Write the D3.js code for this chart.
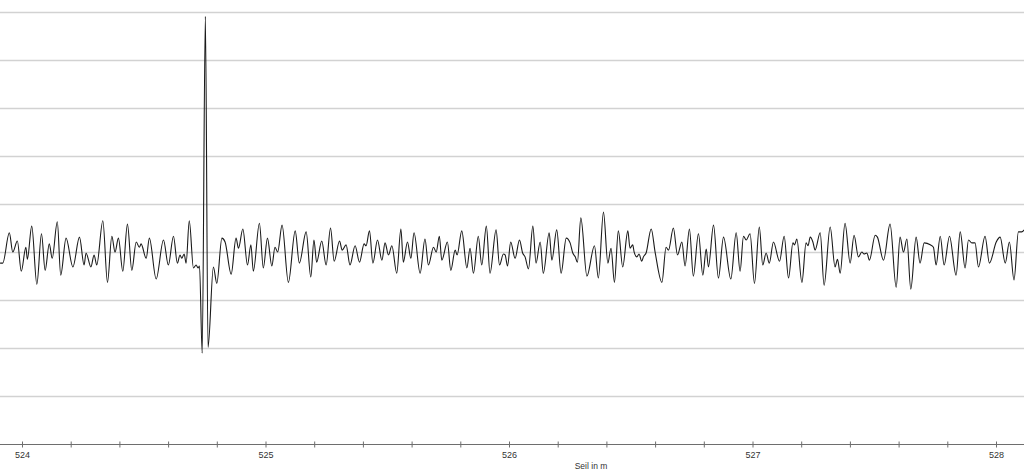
<!DOCTYPE html>
<html>
<head>
<meta charset="utf-8">
<script src="https://cdn.jsdelivr.net/npm/d3@7"></script>
<style>
  html, body { margin: 0; padding: 0; background: #ffffff; }
  svg { display: block; }
</style>
</head>
<body>
<svg id="chart" width="1024" height="470"></svg>
<script>
// Position along the rope (Seil in m) of each read-off turning point
const seilPos = [
523.910,523.921,523.948,523.962,523.981,523.997,524.016,524.022,524.040,524.061,
524.080,524.095,524.112,524.124,524.145,524.159,524.181,524.209,524.236,524.255,
524.263,524.283,524.296,524.307,524.332,524.351,524.369,524.382,524.396,524.414,
524.433,524.451,524.469,524.482,524.489,524.510,524.523,524.551,524.581,524.601,
524.622,524.638,524.649,524.656,524.666,524.674,524.687,524.704,524.715,524.723,
524.729,524.740,524.753,524.764,524.786,524.800,524.821,524.834,524.859,524.879,
524.889,524.907,524.926,524.940,524.950,524.975,524.991,525.008,525.026,525.039,
525.050,525.068,525.094,525.122,525.139,525.167,525.186,525.199,525.210,525.231,
525.249,525.267,525.282,525.304,525.315,525.331,525.347,525.368,525.386,525.405,
525.413,525.427,525.441,525.460,525.478,525.491,525.505,525.519,525.539,525.556,
525.566,525.583,525.597,525.610,525.635,525.655,525.669,525.690,525.701,525.714,
525.724,525.747,525.761,525.779,525.787,525.806,525.827,525.840,525.854,525.874,
525.888,525.907,525.922,525.947,525.961,525.977,525.984,525.994,526.007,526.025,
526.043,526.056,526.066,526.080,526.098,526.111,526.128,526.141,526.165,526.176,
526.196,526.214,526.235,526.251,526.262,526.272,526.281,526.295,526.320,526.351,
526.367,526.388,526.406,526.419,526.433,526.449,526.467,526.488,526.497,526.508,
526.514,526.525,526.534,526.545,526.552,526.563,526.584,526.600,526.628,526.645,
526.655,526.675,526.692,526.710,526.723,526.741,526.757,526.778,526.796,526.810,
526.819,526.840,526.860,526.881,526.911,526.933,526.949,526.963,526.974,526.990,
527.008,527.028,527.042,527.056,527.069,527.086,527.111,527.130,527.148,527.166,
527.173,527.182,527.203,527.220,527.228,527.237,527.248,527.257,527.278,527.294,
527.319,527.339,527.349,527.360,527.380,527.401,527.417,527.435,527.449,527.458,
527.470,527.480,527.504,527.513,527.538,527.565,527.590,527.606,527.620,527.634,
527.650,527.672,527.688,527.705,527.730,527.743,527.754,527.771,527.787,527.809,
527.836,527.853,527.873,527.887,527.901,527.914,527.928,527.955,527.973,528.001,
528.017,528.038,528.055,528.074,528.092,528.106,528.116
];

// Signal amplitude at each of those positions
const signal = [
-0.23,-0.23,0.40,0.00,0.23,-0.40,0.10,-0.15,0.54,-0.67,
0.38,-0.38,0.17,-0.13,0.63,-0.48,0.29,-0.31,0.31,-0.27,
-0.02,-0.31,-0.06,-0.27,0.65,-0.63,0.33,0.00,0.29,-0.40,
0.58,-0.38,0.21,0.10,0.17,-0.13,0.29,-0.56,0.25,-0.27,
0.33,-0.23,-0.06,-0.13,-0.04,-0.23,0.65,-0.33,-0.27,-0.33,
-0.29,-2.10,4.90,-1.98,-0.31,-0.65,0.29,0.21,-0.46,0.29,
0.08,0.48,-0.27,0.15,-0.40,0.60,-0.33,0.29,-0.29,0.10,
0.00,0.56,-0.63,0.44,-0.23,0.42,-0.52,0.25,-0.21,0.23,
-0.27,0.50,-0.19,0.23,0.04,0.15,-0.27,0.13,-0.21,0.17,
0.13,0.44,-0.23,0.25,-0.17,0.19,-0.06,0.13,-0.44,0.48,
-0.21,0.21,-0.13,0.40,-0.44,0.27,-0.27,0.10,0.00,0.33,
-0.17,0.21,-0.38,0.04,-0.06,0.44,-0.33,0.08,-0.44,0.33,
-0.27,0.54,-0.44,0.46,-0.27,-0.04,-0.06,-0.29,0.21,-0.13,
0.25,-0.02,-0.10,-0.35,0.54,-0.23,0.21,-0.44,0.40,-0.17,
0.46,-0.44,0.29,0.19,-0.02,-0.10,-0.21,0.71,-0.50,0.13,
-0.54,0.83,-0.23,0.08,-0.63,0.44,-0.31,0.44,0.08,0.15,
0.00,-0.10,-0.04,-0.19,-0.10,-0.02,0.48,0.00,-0.63,0.10,
0.04,0.50,-0.06,0.21,-0.29,0.48,-0.50,0.38,-0.48,0.06,
-0.31,0.56,-0.54,0.31,-0.56,0.40,-0.40,0.33,0.25,0.38,
-0.65,0.52,-0.27,-0.02,-0.23,0.21,-0.19,0.33,-0.54,0.19,
0.15,0.27,-0.63,0.19,0.13,0.31,0.21,0.04,0.40,-0.69,
0.52,-0.31,-0.15,-0.44,0.60,-0.23,0.35,-0.10,0.00,-0.04,
-0.02,-0.17,0.35,0.31,-0.17,0.58,-0.73,0.31,0.00,0.27,
-0.77,0.31,-0.23,0.19,0.15,0.10,-0.27,0.33,-0.27,0.33,
-0.48,0.42,-0.33,0.25,0.19,0.19,-0.31,0.33,-0.23,0.21,
0.31,-0.23,0.21,-0.58,0.42,0.42,0.46
];

// Horizontal grid levels and axis ticks
const gridLevels = [-3, -2, -1, 0, 1, 2, 3, 4, 5];
const tickPositions = [524.0,524.2,524.4,524.6,524.8,525.0,525.2,525.4,525.6,525.8,
                       526.0,526.2,526.4,526.6,526.8,527.0,527.2,527.4,527.6,527.8,528.0];
const tickLabels = [524, 525, 526, 527, 528];
const axisTitle = "Seil in m";

const W = 1024, H = 470;
const svg = d3.select("#chart");

const x = d3.scaleLinear().domain([524, 528]).range([22, 996]);
const y = d3.scaleLinear().domain([-4, 5]).range([444.5, 11.5]);

// grid
svg.append("g").selectAll("line").data(gridLevels).join("line")
  .attr("x1", 0).attr("x2", W)
  .attr("y1", d => Math.round(y(d)) + 0.5)
  .attr("y2", d => Math.round(y(d)) + 0.5)
  .attr("stroke", "#d2d2d2").attr("stroke-width", 1.5);

// signal line
const pts = seilPos.map((p, i) => [p, signal[i]]);
const line = d3.line().x(d => x(d[0])).y(d => y(d[1])).curve(d3.curveMonotoneX);
svg.append("path").datum(pts)
  .attr("d", line)
  .attr("fill", "none")
  .attr("stroke", "#1a1a1a")
  .attr("stroke-width", 1.1)
  .attr("stroke-linejoin", "round");

// x axis
const axisY = 444.5;
const axis = d3.axisBottom(x)
  .tickValues(tickPositions)
  .tickSize(3)
  .tickFormat(d => tickLabels.includes(Math.round(d * 10) / 10) ? d3.format("d")(d) : "");
const gAxis = svg.append("g").attr("transform", `translate(0,${axisY})`).call(axis);
gAxis.select(".domain").remove();
gAxis.append("line").attr("x1", 0).attr("x2", W).attr("y1", 0).attr("y2", 0)
  .attr("stroke", "#6e6e6e").attr("stroke-width", 1.2);
gAxis.selectAll(".tick line").attr("y1", -3).attr("y2", 3).attr("stroke", "#6e6e6e");
gAxis.selectAll(".tick text")
  .attr("y", 7)
  .attr("fill", "#333")
  .style("font-family", "'Liberation Sans', Arial, sans-serif")
  .style("font-size", "9px");

svg.append("text")
  .attr("x", 591).attr("y", 468.5)
  .attr("text-anchor", "middle")
  .attr("fill", "#333")
  .style("font-family", "'Liberation Sans', Arial, sans-serif")
  .style("font-size", "8.5px")
  .text(axisTitle);
</script>
</body>
</html>
